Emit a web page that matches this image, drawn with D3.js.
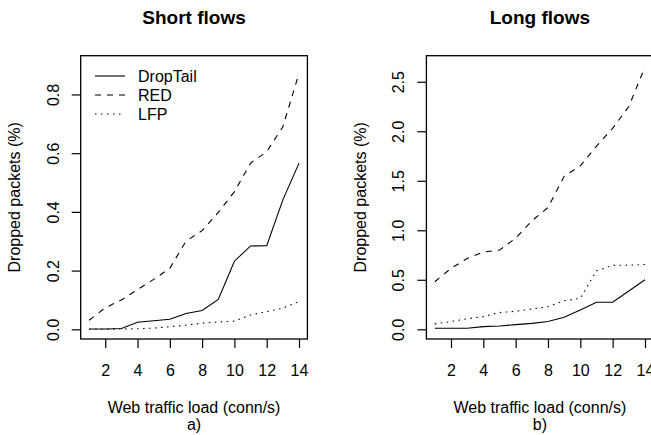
<!DOCTYPE html>
<html>
<head>
<meta charset="utf-8">
<script src="https://cdn.jsdelivr.net/npm/d3@7/dist/d3.min.js"></script>
<style>
  html, body { margin: 0; padding: 0; background: #fff; overflow: hidden; }
  svg { display: block; font-family: "Liberation Sans", Arial, Helvetica, sans-serif; }
</style>
</head>
<body>
<svg id="chart" width="651" height="435"></svg>
<script>
// ---- data ----
const loads = [1, 2, 3, 4, 5, 6, 7, 8, 9, 10, 11, 12, 13, 14];
const xTicks = [2, 4, 6, 8, 10, 12, 14];

const shortDropTail = [0.001, 0.001, 0.003, 0.024, 0.029, 0.034, 0.054, 0.064, 0.102, 0.232, 0.284, 0.285, 0.441, 0.566];
const shortRED      = [0.031, 0.073, 0.100, 0.135, 0.170, 0.208, 0.300, 0.336, 0.398, 0.469, 0.566, 0.605, 0.690, 0.872];
const shortLFP      = [0.000, 0.000, 0.001, 0.002, 0.004, 0.009, 0.014, 0.021, 0.025, 0.028, 0.049, 0.060, 0.072, 0.095];
const shortYTicks   = [0.0, 0.2, 0.4, 0.6, 0.8];

const longDropTail  = [0.010, 0.010, 0.010, 0.027, 0.034, 0.047, 0.060, 0.078, 0.121, 0.195, 0.273, 0.273, 0.387, 0.500];
const longRED       = [0.480, 0.615, 0.715, 0.780, 0.800, 0.920, 1.095, 1.230, 1.545, 1.650, 1.850, 2.030, 2.250, 2.650];
const longLFP       = [0.055, 0.078, 0.106, 0.128, 0.170, 0.181, 0.205, 0.228, 0.288, 0.313, 0.590, 0.645, 0.648, 0.655];
const longYTicks    = [0.0, 0.5, 1.0, 1.5, 2.0, 2.5];

const seriesNames = ["DropTail", "RED", "LFP"];
const dashes = { "DropTail": null, "RED": "6,6", "LFP": "1.5,4.5" };

const svg = d3.select("#chart");

function panel(opts) {
  const { left, right, top, bottom, yDomain, yTicks, yFmt, title, sub, series, legend } = opts;
  const g = svg.append("g");
  const x = d3.scaleLinear().domain([0.48, 14.52]).range([left, right]);
  const y = d3.scaleLinear().domain(yDomain).range([bottom, top]);

  // x axis
  const xa = g.append("g").attr("transform", `translate(0,${bottom})`)
    .call(d3.axisBottom(x).tickValues(xTicks).tickSize(9).tickFormat(d3.format("d")));
  xa.select(".domain").remove();
  xa.selectAll(".tick line").attr("stroke", "#000").attr("stroke-width", 1.2);
  xa.selectAll(".tick text").attr("y", 36.5).attr("dy", null)
    .attr("font-size", 16).attr("fill", "#000").attr("font-family", "Liberation Sans, Arial, sans-serif");

  // y axis
  const ya = g.append("g").attr("transform", `translate(${left},0)`)
    .call(d3.axisLeft(y).tickValues(yTicks).tickSize(9).tickFormat(d3.format(yFmt)));
  ya.select(".domain").remove();
  ya.selectAll(".tick line").attr("stroke", "#000").attr("stroke-width", 1.2);
  ya.selectAll(".tick text")
    .attr("x", null).attr("dy", null)
    .attr("text-anchor", "middle")
    .attr("transform", "translate(-22,0) rotate(-90)")
    .attr("font-size", 16).attr("fill", "#000").attr("font-family", "Liberation Sans, Arial, sans-serif");

  // box
  g.append("rect").attr("x", left).attr("y", top)
    .attr("width", right - left).attr("height", bottom - top)
    .attr("fill", "none").attr("stroke", "#000").attr("stroke-width", 1.3);

  // lines
  const line = d3.line().x((d, i) => x(loads[i])).y(d => y(d));
  seriesNames.forEach((name, k) => {
    g.append("path").datum(series[k])
      .attr("d", line)
      .attr("fill", "none").attr("stroke", "#000").attr("stroke-width", 1.1)
      .attr("stroke-dasharray", dashes[name]);
  });

  // titles
  const cx = (left + right) / 2;
  g.append("text").attr("x", cx).attr("y", 24.3).attr("text-anchor", "middle")
    .attr("font-size", 19).attr("font-weight", "bold").text(title);
  g.append("text").attr("x", cx).attr("y", 413.3).attr("text-anchor", "middle")
    .attr("font-size", 16).text("Web traffic load (conn/s)");
  g.append("text").attr("x", cx).attr("y", 429.5).attr("text-anchor", "middle")
    .attr("font-size", 16).text(sub);
  g.append("text").attr("transform", `translate(${left - 60.5},${(top + bottom) / 2}) rotate(-90)`)
    .attr("text-anchor", "middle").attr("font-size", 16).text("Dropped packets (%)");

  if (legend) {
    const lg = g.append("g");
    seriesNames.forEach((name, k) => {
      const yy = 76 + k * 19;
      lg.append("line").attr("x1", 95).attr("x2", 125).attr("y1", yy).attr("y2", yy)
        .attr("stroke", "#000").attr("stroke-width", 1.1).attr("stroke-dasharray", dashes[name]);
      lg.append("text").attr("x", 138).attr("y", yy + 5.8).attr("font-size", 16).text(name);
    });
  }
}

panel({
  left: 80.7, right: 307.4, top: 55.7, bottom: 339,
  yDomain: [-0.033, 0.932], yTicks: shortYTicks, yFmt: ".1f",
  title: "Short flows", sub: "a)",
  series: [shortDropTail, shortRED, shortLFP], legend: true
});
panel({
  left: 426.4, right: 653.4, top: 55.7, bottom: 339,
  yDomain: [-0.098, 2.763], yTicks: longYTicks, yFmt: ".1f",
  title: "Long flows", sub: "b)",
  series: [longDropTail, longRED, longLFP], legend: false
});
</script>
</body>
</html>
